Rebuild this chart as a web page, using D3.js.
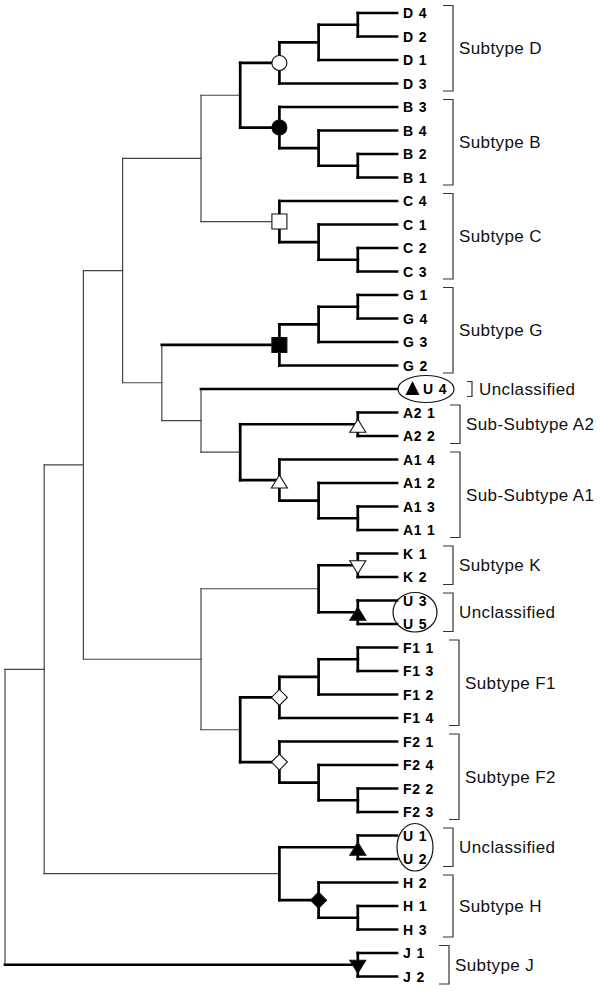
<!DOCTYPE html>
<html><head><meta charset="utf-8">
<script src="https://cdn.jsdelivr.net/npm/d3@7"></script>
<style>body{margin:0;background:#fff}svg{display:block}</style>
</head><body><svg id="c" width="600" height="991"></svg>
<script>
// ---- data: clades (leaf names in display order) ----
const cladeD = [[["D 4","D 2"],"D 1"],"D 3"];
const cladeB = ["B 3",["B 4",["B 2","B 1"]]];
const cladeC = ["C 4",["C 1",["C 2","C 3"]]];
const cladeG = [[["G 1","G 4"],"G 3"],"G 2"];
const cladeA2 = ["A2 1","A2 2"];
const cladeA1 = ["A1 4",["A1 2",["A1 3","A1 1"]]];
const cladeK = ["K 1","K 2"];
const cladeU35 = ["U 3","U 5"];
const cladeF1 = [[["F1 1","F1 3"],"F1 2"],"F1 4"];
const cladeF2 = ["F2 1",["F2 4",["F2 2","F2 3"]]];
const cladeU12 = ["U 1","U 2"];
const cladeH = ["H 2",["H 1","H 3"]];
const cladeJ = ["J 1","J 2"];

const treeData = [
  [
    [
      [ [[cladeD, cladeB], cladeC], [cladeG, ["U 4", [cladeA2, cladeA1]]] ],
      [ [cladeK, cladeU35], [cladeF1, cladeF2] ]
    ],
    [cladeU12, cladeH]
  ],
  cladeJ
];

// group brackets
const groupLabels = ["Subtype D","Subtype B","Subtype C","Subtype G","Unclassified","Sub-Subtype A2","Sub-Subtype A1","Subtype K","Unclassified","Subtype F1","Subtype F2","Unclassified","Subtype H","Subtype J"];
const groupFirst  = ["D 4","B 3","C 4","G 1","U 4","A2 1","A1 4","K 1","U 3","F1 1","F2 1","U 1","H 2","J 1"];
const groupLast   = ["D 3","B 1","C 3","G 2","U 4","A2 2","A1 1","K 2","U 5","F1 4","F2 3","U 2","H 3","J 2"];

// node markers (clade given by first/last leaf)
const markerClades = [["D 4","D 3"],["B 3","B 1"],["C 4","C 3"],["G 1","G 2"],["A2 1","A2 2"],["A1 4","A1 1"],["K 1","K 2"],["U 3","U 5"],["F1 1","F1 4"],["F2 1","F2 3"],["U 1","U 2"],["H 2","H 3"],["J 1","J 2"]];
const markerTypes  = ["circleOpen","circleFilled","squareOpen","squareFilled","triUpOpen","triUpOpen","triDownOpen","triUpFilled","diamondOpen","diamondOpen","triUpFilled","diamondFilled","triDownFilled"];

// encircled unclassified leaves
const circledLeaves = [["U 4"],["U 3","U 5"],["U 1","U 2"]];

// backbone (thin) parts of the tree, clades given by first/last leaf
const thinVertical = [["D 4","J 2"],["D 4","H 3"],["D 4","F2 3"],["D 4","A1 1"],["D 4","C 3"],["G 1","A1 1"],["U 4","A1 1"],["K 1","F2 3"]];
const thinHorizontal = [["D 4","H 3"],["D 4","F2 3"],["D 4","A1 1"],["D 4","C 3"],["G 1","A1 1"],["U 4","A1 1"],["K 1","F2 3"],["D 4","B 1"],["C 4","C 3"],["A2 1","A1 1"],["K 1","U 5"],["F1 1","F2 3"],["U 1","H 3"]];

// ---- layout ----
const svg = d3.select("#c");
const root = d3.hierarchy(treeData, d => Array.isArray(d) ? d : null);
const nLeaves = root.leaves().length;
d3.cluster().size([1, 1]).separation(() => 1)(root);

const yS = d3.scaleLinear().domain([0.5 / nLeaves, (nLeaves - 0.5) / nLeaves]).range([13, 976.5]);
const xS = d3.scaleLinear().domain([0, 1]).range([5, 397]);
root.each(n => { n.px = xS(n.y); n.py = yS(n.x); });

const leafMap = new Map(root.leaves().map(l => [l.data, l]));
function lca(a, b) {
  const A = new Set(leafMap.get(a).ancestors());
  return leafMap.get(b).ancestors().find(n => A.has(n));
}
const thinV = new Set(thinVertical.map(p => lca(p[0], p[1])));
const thinH = new Set(thinHorizontal.map(p => lca(p[0], p[1])));

const THICK = {stroke: "#000", w: 2.7};
const THIN = {stroke: "#444", w: 1.2};

const gThin = svg.append("g"), gThick = svg.append("g");
function seg(x1, y1, x2, y2, thin) {
  const s = thin ? THIN : THICK;
  (thin ? gThin : gThick).append("line")
    .attr("x1", x1).attr("y1", y1).attr("x2", x2).attr("y2", y2)
    .attr("stroke", s.stroke).attr("stroke-width", s.w)
    .attr("stroke-linecap", "square");
}
root.each(n => {
  if (n.children) {
    const ys = n.children.map(c => c.py);
    seg(n.px, d3.min(ys), n.px, d3.max(ys), thinV.has(n));
  }
  if (n.parent) seg(n.parent.px, n.py, n.px, n.py, thinH.has(n));
});

// ---- markers ----
function markerPath(t, x, y) {
  if (t.startsWith("triUp")) return `M${x},${y-5}L${x+8},${y+8}L${x-8},${y+8}Z`;
  if (t.startsWith("triDown")) return `M${x-8},${y-4.5}L${x+8},${y-4.5}L${x},${y+8.5}Z`;
  if (t.startsWith("diamond")) return `M${x},${y-8}L${x+8},${y}L${x},${y+8}L${x-8},${y}Z`;
  return `M${x-7.5},${y-7.5}h15v15h-15Z`;
}
const gM = svg.append("g");
markerClades.forEach((p, i) => {
  const n = lca(p[0], p[1]);
  const t = markerTypes[i];
  const filled = t.endsWith("Filled");
  if (t.startsWith("circle")) {
    gM.append("circle").attr("cx", n.px).attr("cy", n.py).attr("r", 7.5)
      .attr("fill", filled ? "#000" : "#fff").attr("stroke", "#111").attr("stroke-width", 1.1);
  } else {
    gM.append("path").attr("d", markerPath(t, n.px, n.py))
      .attr("fill", filled ? "#000" : "#fff").attr("stroke", "#111").attr("stroke-width", 1.1)
      .attr("stroke-linejoin", "miter");
  }
});

// ---- encircled unclassified leaves ----
const gE = svg.append("g");
const shiftedLeaves = new Set();
circledLeaves.forEach(list => {
  const ys = list.map(l => leafMap.get(l).py);
  const cy = (d3.min(ys) + d3.max(ys)) / 2;
  if (list.length === 1) {
    shiftedLeaves.add(list[0]);
    gE.append("ellipse").attr("cx", 426).attr("cy", cy).attr("rx", 28).attr("ry", 13.5)
      .attr("fill", "#fff").attr("stroke", "#111").attr("stroke-width", 1.2);
    gE.append("path").attr("d", `M412.5,${cy-8}L419.5,${cy+6}L405.5,${cy+6}Z`).attr("fill", "#000");
  } else {
    const span = d3.max(ys) - d3.min(ys);
    const rx = list[0] === "U 3" ? 22 : 18;
    const ry = span / 2 + (list[0] === "U 3" ? 8 : 12);
    gE.append("ellipse").attr("cx", 415).attr("cy", cy).attr("rx", rx).attr("ry", ry)
      .attr("fill", "none").attr("stroke", "#111").attr("stroke-width", 1.2);
  }
});

// ---- leaf labels ----
const FONT = "'Liberation Sans', Arial, Helvetica, sans-serif";
svg.append("g").selectAll("text").data(root.leaves()).join("text")
  .attr("x", d => shiftedLeaves.has(d.data) ? 423 : 403)
  .attr("y", d => d.py + 5)
  .attr("font-family", FONT).attr("font-weight", "bold").attr("font-size", 14)
  .attr("letter-spacing", 0.6).attr("word-spacing", 0.5)
  .attr("fill", "#000")
  .text(d => d.data);

// ---- brackets and group labels ----
const bracketX = [453,453,453,453,472,460,460,453,453,459,459,453,453,449];
const gB = svg.append("g");
groupLabels.forEach((lab, i) => {
  const y0 = leafMap.get(groupFirst[i]).py - 7.5;
  const y1 = leafMap.get(groupLast[i]).py + 7.5;
  const bx = bracketX[i];
  const tick = groupFirst[i] === groupLast[i] ? 5 : 10;
  gB.append("path").attr("d", `M${bx - tick},${y0}H${bx}V${y1}H${bx - tick}`)
    .attr("fill", "none").attr("stroke", "#333").attr("stroke-width", 1.2);
  gB.append("text").attr("x", bx + (groupFirst[i] === groupLast[i] ? 7 : 6)).attr("y", (y0 + y1) / 2 + 6)
    .attr("font-family", FONT).attr("font-size", 17).attr("letter-spacing", 0.4)
    .attr("fill", "#111").text(lab);
});
</script>
</body></html>
